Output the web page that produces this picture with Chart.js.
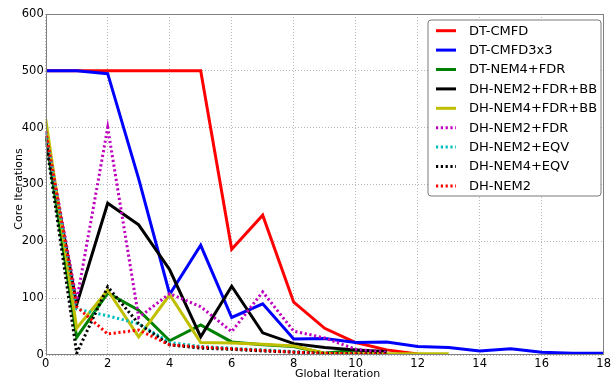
<!DOCTYPE html>
<html>
<head>
<meta charset="utf-8">
<script src="https://cdn.jsdelivr.net/npm/chart.js@4/dist/chart.umd.min.js"></script>
<style>
  html, body { margin: 0; padding: 0; background: #fff; }
  #wrap { width: 613px; height: 381px; }
</style>
</head>
<body>
<div id="wrap"><canvas id="c" width="613" height="381"></canvas></div>
<script>
// Core iterations needed at each global iteration, per solver scheme
const xTicks = [0, 2, 4, 6, 8, 10, 12, 14, 16, 18];
const yTicks = [0, 100, 200, 300, 400, 500, 600];
const xTitle = 'Global Iteration';
const yTitle = 'Core Iterations';

const dtCmfd      = [500, 500, 500, 500, 500, 500, 186, 246, 93, 47, 22, 9, 2];
const dtCmfd3x3   = [500, 500, 495, 310, 107, 193, 66, 90, 28, 29, 22, 23, 15, 13, 7, 11, 5, 3, 3];
const dtNem4Fdr   = [386, 31, 109, 79, 25, 53, 23, 18, 15, 3, 9, 4];
const dhNem2FdrBb = [386, 89, 267, 229, 150, 32, 121, 39, 20, 13, 9, 6];
const dhNem4FdrBb = [415, 47, 114, 32, 106, 22, 21, 19, 16, 3, 2, 2, 2, 2];
const dhNem2Fdr   = [392, 96, 400, 66, 108, 85, 41, 111, 42, 30, 10, 5];
const dhNem2Eqv   = [392, 81, 69, 55, 22, 15, 12, 9, 6, 3, 2];
const dhNem4Eqv   = [380, 3, 120, 55, 18, 12, 10, 7, 5, 3, 2, 2];
const dhNem2      = [394, 85, 37, 44, 18, 14, 11, 8, 5, 3, 2, 1];

const seriesNames = ['DT-CMFD', 'DT-CMFD3x3', 'DT-NEM4+FDR', 'DH-NEM2+FDR+BB', 'DH-NEM4+FDR+BB',
                     'DH-NEM2+FDR', 'DH-NEM2+EQV', 'DH-NEM4+EQV', 'DH-NEM2'];
const seriesValues = [dtCmfd, dtCmfd3x3, dtNem4Fdr, dhNem2FdrBb, dhNem4FdrBb,
                      dhNem2Fdr, dhNem2Eqv, dhNem4Eqv, dhNem2];
const seriesColors = ['#ff0000', '#0000ff', '#008000', '#000000', '#bfbf00',
                      '#bf00bf', '#00bfbf', '#000000', '#ff0000'];
const seriesDotted = [false, false, false, false, false, true, true, true, true];

const FONT = 'DejaVu Sans';
const DOT = [2.2, 2.6];

const datasets = seriesNames.map((name, i) => ({
  label: name,
  data: seriesValues[i].map((v, k) => ({ x: k, y: v })),
  borderColor: seriesColors[i],
  backgroundColor: seriesColors[i],
  borderWidth: 3,
  borderDash: seriesDotted[i] ? DOT : [],
  borderCapStyle: 'butt',
  borderJoinStyle: 'miter',
  pointRadius: 0,
  pointHoverRadius: 0,
  tension: 0,
  fill: false,
  // later series are painted on top of earlier ones
  order: seriesNames.length - i
}));

// frame around the plotting area plus the two axis titles
const framePlugin = {
  id: 'frame',
  afterDraw(chart) {
    const { ctx, chartArea: a } = chart;
    ctx.save();
    ctx.strokeStyle = '#808080';
    ctx.lineWidth = 1;
    ctx.strokeRect(Math.round(a.left) + 0.5, Math.round(a.top) + 0.5,
                   Math.round(a.right - a.left) - 1, Math.round(a.bottom - a.top) - 1);

    ctx.fillStyle = '#000';
    ctx.font = '11px "' + FONT + '"';
    ctx.textAlign = 'center';
    ctx.textBaseline = 'alphabetic';
    ctx.fillText(xTitle, 337.5, 376.5);

    ctx.translate(21.5, 189);
    ctx.rotate(-Math.PI / 2);
    ctx.fillText(yTitle, 0, 0);
    ctx.restore();
  }
};

// legend box in the upper right corner of the plot
const legendPlugin = {
  id: 'boxLegend',
  afterDraw(chart) {
    const { ctx } = chart;
    const x0 = 428, y0 = 20, w = 173, h = 176;
    ctx.save();
    ctx.beginPath();
    const r = 3;
    ctx.moveTo(x0 + r, y0);
    ctx.arcTo(x0 + w, y0, x0 + w, y0 + h, r);
    ctx.arcTo(x0 + w, y0 + h, x0, y0 + h, r);
    ctx.arcTo(x0, y0 + h, x0, y0, r);
    ctx.arcTo(x0, y0, x0 + w, y0, r);
    ctx.closePath();
    ctx.fillStyle = '#ffffff';
    ctx.fill();
    ctx.strokeStyle = '#7a7a7a';
    ctx.lineWidth = 1;
    ctx.stroke();

    ctx.font = '13px "' + FONT + '"';
    ctx.textBaseline = 'middle';
    ctx.textAlign = 'left';
    chart.data.datasets.forEach((ds, i) => {
      const y = 30.7 + i * 19.4;
      ctx.beginPath();
      ctx.setLineDash(seriesDotted[i] ? DOT : []);
      ctx.lineCap = 'butt';
      ctx.strokeStyle = ds.borderColor;
      ctx.lineWidth = 3;
      ctx.moveTo(436, y);
      ctx.lineTo(456, y);
      ctx.stroke();
      ctx.setLineDash([]);
      ctx.fillStyle = '#000';
      ctx.fillText(ds.label, 469, y + 0.5);
    });
    ctx.restore();
  }
};

new Chart(document.getElementById('c'), {
  type: 'line',
  data: { datasets },
  options: {
    responsive: false,
    animation: false,
    events: [],
    layout: { padding: { left: 0, top: 14, right: 4, bottom: 0 } },
    plugins: {
      legend: { display: false },
      tooltip: { enabled: false }
    },
    scales: {
      x: {
        type: 'linear',
        min: 0, max: 18,
        afterFit(scale) { scale.height = 26; },
        afterBuildTicks(scale) { scale.ticks = xTicks.map(v => ({ value: v })); },
        ticks: {
          color: '#000',
          font: { family: FONT, size: 11.5 },
          padding: 2,
          maxRotation: 0,
          autoSkip: false
        },
        grid: { color: '#b8b8b8', lineWidth: 1, drawTicks: false },
        border: { display: false, dash: [1, 2] },
        title: { display: false }
      },
      y: {
        type: 'linear',
        min: 0, max: 600,
        afterFit(scale) { scale.width = 45.7; },
        afterBuildTicks(scale) { scale.ticks = yTicks.map(v => ({ value: v })); },
        ticks: {
          color: '#000',
          font: { family: FONT, size: 11.5 },
          padding: 2
        },
        grid: { color: '#b8b8b8', lineWidth: 1, drawTicks: false },
        border: { display: false, dash: [1, 2] },
        title: { display: false }
      }
    }
  },
  plugins: [framePlugin, legendPlugin]
});
</script>
</body>
</html>
